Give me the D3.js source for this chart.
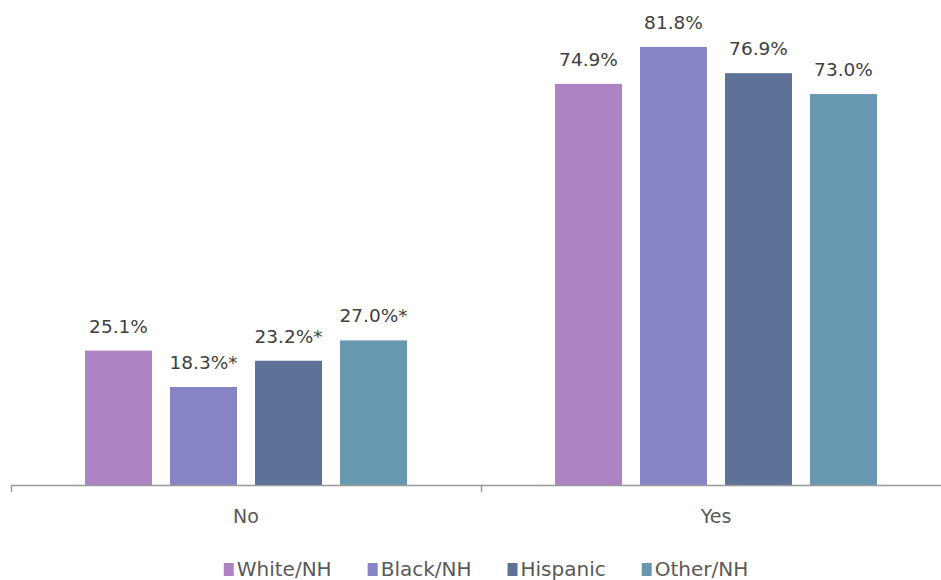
<!DOCTYPE html>
<html>
<head>
<meta charset="utf-8">
<script src="https://cdn.jsdelivr.net/npm/d3@7"></script>
<style>
  html, body { margin: 0; padding: 0; background: #fff; }
  svg { display: block; font-family: "DejaVu Sans", sans-serif; }
</style>
</head>
<body>
<svg id="chart" width="941" height="580"></svg>
<script>
// Response categories along the x axis
const categories = ["No", "Yes"];
// Race / ethnicity groups (legend order)
const groups = ["White/NH", "Black/NH", "Hispanic", "Other/NH"];
// Percent values per group, one array per category
const noValues  = [25.1, 18.3, 23.2, 27.0];
const yesValues = [74.9, 81.8, 76.9, 73.0];
// Significance flags shown as an asterisk after the label
const noFlags  = [false, true, true, true];
const yesFlags = [false, false, false, false];
const groupColors = ["#ae83c4", "#8784c6", "#5e7298", "#6898af"];

const data = categories.map((c, i) => ({
  category: c,
  values: (i === 0 ? noValues : yesValues).map((v, j) => ({
    group: groups[j],
    value: v,
    flag: (i === 0 ? noFlags : yesFlags)[j]
  }))
}));

const svg = d3.select("#chart");
const baseY = 485;

const x0 = d3.scaleBand().domain(categories).range([11, 951]).padding(0);
const x1 = d3.scaleBand().domain(groups).range([74, 396])
  .paddingInner(18 / 85).paddingOuter(0);
const y = d3.scaleLinear().domain([0, 90]).range([baseY, 3]);
const color = d3.scaleOrdinal().domain(groups).range(groupColors);

// Bars and value labels
const cat = svg.selectAll("g.cat").data(data).join("g")
  .attr("class", "cat")
  .attr("transform", d => `translate(${x0(d.category)},0)`);

cat.selectAll("rect").data(d => d.values).join("rect")
  .attr("x", d => x1(d.group))
  .attr("y", d => y(d.value))
  .attr("width", x1.bandwidth())
  .attr("height", d => baseY - y(d.value))
  .attr("fill", d => color(d.group));

cat.selectAll("text.val").data(d => d.values).join("text")
  .attr("class", "val")
  .attr("x", d => x1(d.group) + x1.bandwidth() / 2)
  .attr("y", d => y(d.value) - 18)
  .attr("text-anchor", "middle")
  .attr("font-size", 18.5)
  .attr("fill", "#404040")
  .text(d => d3.format(".1f")(d.value) + "%" + (d.flag ? "*" : ""));

// Category axis
const axis = d3.axisBottom(x0).tickSize(0).tickFormat(d => d);
const axisG = svg.append("g").attr("transform", `translate(0,${baseY})`).call(axis);
axisG.select(".domain").remove();
axisG.selectAll("text")
  .attr("font-family", "DejaVu Sans, sans-serif")
  .attr("font-size", 19)
  .attr("fill", "#595959")
  .attr("dy", null)
  .attr("y", 38);

svg.append("line")
  .attr("x1", 11).attr("x2", 941)
  .attr("y1", baseY + 0.5).attr("y2", baseY + 0.5)
  .attr("stroke", "#999").attr("stroke-width", 1.5);

// Boundary ticks between categories
const bounds = categories.map(c => x0(c)).concat([x0.range()[1]]);
svg.selectAll("line.tick").data(bounds).join("line")
  .attr("class", "tick")
  .attr("x1", d => d + 0.5).attr("x2", d => d + 0.5)
  .attr("y1", baseY).attr("y2", baseY + 7)
  .attr("stroke", "#999").attr("stroke-width", 1.5);

// Legend
const legend = svg.append("g");
const items = legend.selectAll("g").data(groups).join("g");
items.append("rect")
  .attr("y", 563).attr("width", 10).attr("height", 13)
  .attr("fill", d => color(d));
items.append("text")
  .attr("x", 13).attr("y", 575.5)
  .attr("font-size", 20)
  .attr("fill", "#595959")
  .text(d => d);

let cursor = 0;
const gap = 36;
items.each(function() {
  const w = 13 + d3.select(this).select("text").node().getComputedTextLength();
  d3.select(this).attr("transform", `translate(${cursor},0)`);
  cursor += w + gap;
});
const total = cursor - gap;
legend.attr("transform", `translate(${486 - total / 2},0)`);
</script>
</body>
</html>
